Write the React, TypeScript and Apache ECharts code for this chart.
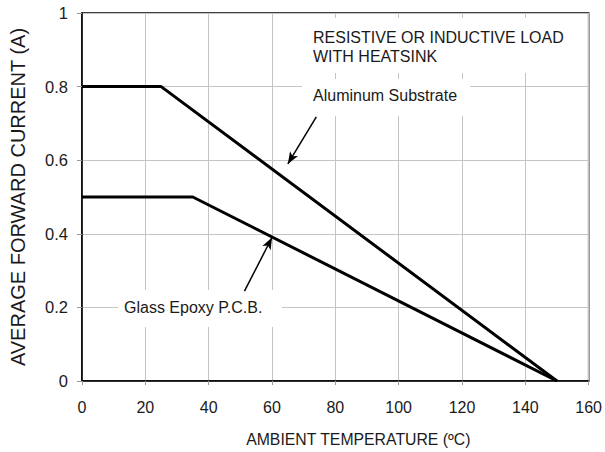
import React, { useEffect, useRef } from "react";
import * as echarts from "echarts";

const aluminumPoints: [number, number][] = [
  [0, 0.8],
  [25, 0.8],
  [150, 0],
];
const glassPoints: [number, number][] = [
  [0, 0.5],
  [35, 0.5],
  [150, 0],
];
// arrow annotations: [tail, head] in data coordinates
const aluminumArrow: [number, number][] = [
  [74, 0.718],
  [65, 0.59],
];
const glassArrow: [number, number][] = [
  [51.3, 0.244],
  [60, 0.39],
];
const titleLines = ["RESISTIVE OR INDUCTIVE LOAD", "WITH HEATSINK"];
const aluminumLabel = "Aluminum Substrate";
const glassLabel = "Glass Epoxy P.C.B.";
const xName = "AMBIENT TEMPERATURE (ºC)";
const yName = "AVERAGE FORWARD CURRENT (A)";

const FONT = "Liberation Sans, Arial, sans-serif";
const TXT = "#1a1a1a";

export default function App() {
  const ref = useRef<HTMLDivElement>(null);
  useEffect(() => {
    if (!ref.current) return;
    const chart = echarts.init(ref.current, undefined, { renderer: "svg" });
    const arrowLine = (pts: [number, number][]) => [
      { coord: pts[0], symbol: "none" },
      { coord: pts[1], symbol: "arrow" },
    ];
    chart.setOption({
      animation: false,
      backgroundColor: "#ffffff",
      grid: {
        left: 82,
        right: 15,
        top: 13,
        bottom: 70,
        show: true,
        borderColor: "#000",
        borderWidth: 1.5,
        backgroundColor: "transparent",
      },
      xAxis: {
        type: "value",
        min: 0,
        max: 160,
        interval: 20,
        name: xName,
        nameLocation: "middle",
        nameGap: 50,
        nameTextStyle: { fontFamily: FONT, fontSize: 15.8, color: TXT, padding: [0, 0, 0, 46] },
        axisLine: { show: true, lineStyle: { color: "#000", width: 1.5 } },
        axisTick: { show: true, length: 4, lineStyle: { color: "#999", width: 1 } },
        axisLabel: { fontFamily: FONT, fontSize: 16, color: TXT, margin: 18 },
        splitLine: { show: true, lineStyle: { color: "#c4c4c4", width: 1 } },
      },
      yAxis: {
        type: "value",
        min: 0,
        max: 1,
        interval: 0.2,
        name: yName,
        nameLocation: "middle",
        nameGap: 54,
        nameTextStyle: { fontFamily: FONT, fontSize: 20, color: TXT },
        axisLine: { show: true, lineStyle: { color: "#000", width: 1.5 } },
        axisTick: { show: true, length: 5, lineStyle: { color: "#999", width: 1 } },
        axisLabel: { fontFamily: FONT, fontSize: 16.5, color: TXT, margin: 14 },
        splitLine: { show: true, lineStyle: { color: "#c4c4c4", width: 1 } },
      },
      graphic: [
        { type: "rect", z: 1, shape: { x: 302, y: 18, width: 276, height: 55 }, style: { fill: "#fff" } },
        { type: "rect", z: 1, shape: { x: 302, y: 79, width: 168, height: 37 }, style: { fill: "#fff" } },
        { type: "rect", z: 1, shape: { x: 118, y: 290, width: 164, height: 37 }, style: { fill: "#fff" } },
        {
          type: "text",
          z: 3,
          style: { text: titleLines[0], x: 313, y: 37, fill: TXT, font: `16px ${FONT}`, verticalAlign: "middle" },
        },
        {
          type: "text",
          z: 3,
          style: { text: titleLines[1], x: 313, y: 56, fill: TXT, font: `16px ${FONT}`, verticalAlign: "middle" },
        },
        {
          type: "text",
          z: 3,
          style: { text: aluminumLabel, x: 313, y: 95, fill: TXT, font: `16px ${FONT}`, verticalAlign: "middle" },
        },
        {
          type: "text",
          z: 3,
          style: { text: glassLabel, x: 124, y: 307, fill: TXT, font: `16px ${FONT}`, verticalAlign: "middle" },
        },
      ],
      series: [
        {
          type: "line",
          data: aluminumPoints,
          showSymbol: false,
          lineStyle: { color: "#000", width: 3 },
          z: 5,
          markLine: {
            silent: true,
            animation: false,
            symbolSize: [7, 12],
            label: { show: false },
            lineStyle: { color: "#000", width: 1.5, type: "solid" },
            data: [arrowLine(aluminumArrow)],
          },
        },
        {
          type: "line",
          data: glassPoints,
          showSymbol: false,
          lineStyle: { color: "#000", width: 3 },
          z: 5,
          markLine: {
            silent: true,
            animation: false,
            symbolSize: [7, 12],
            label: { show: false },
            lineStyle: { color: "#000", width: 1.5, type: "solid" },
            data: [arrowLine(glassArrow)],
          },
        },
      ],
    });
    return () => chart.dispose();
  }, []);
  return (
    <div
      ref={ref}
      style={{ position: "fixed", left: 0, top: 0, width: 605, height: 452 }}
    />
  );
}
